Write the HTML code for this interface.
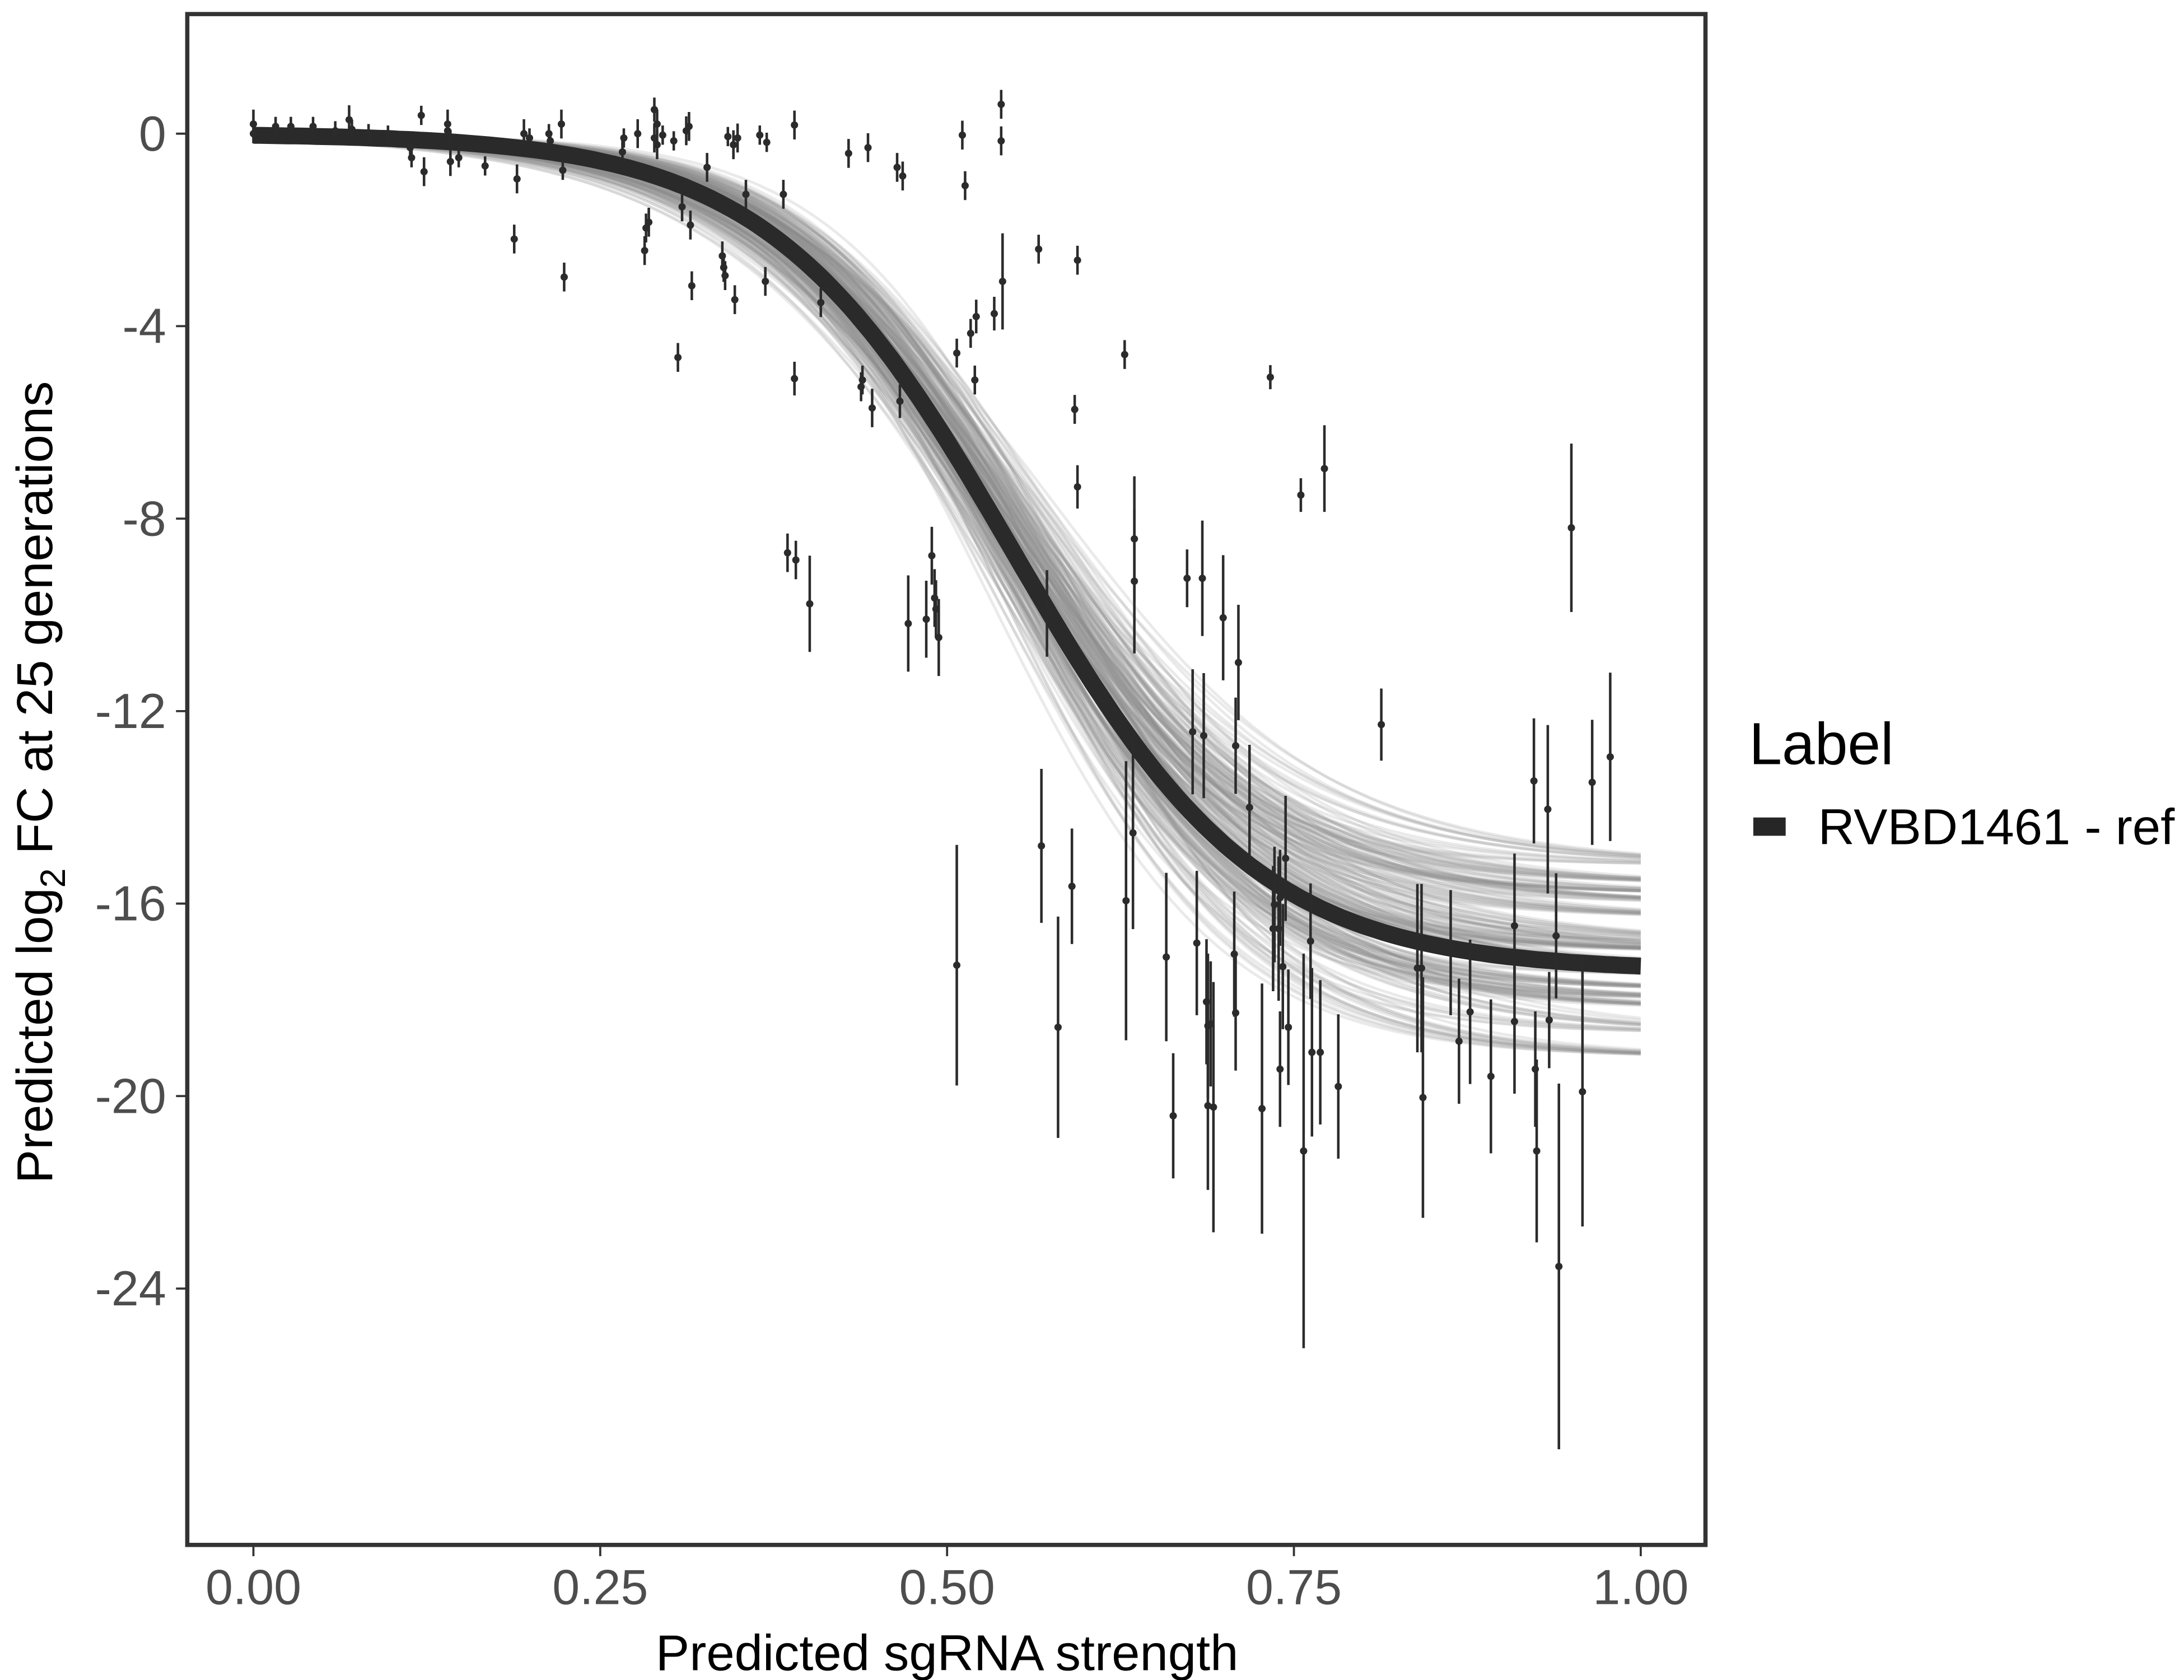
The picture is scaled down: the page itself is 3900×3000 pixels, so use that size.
<!DOCTYPE html>
<html><head><meta charset="utf-8"><style>
html,body{margin:0;padding:0;background:#fff}
svg{display:block}
text{font-family:"Liberation Sans",sans-serif}
</style></head><body>
<svg id="chart" width="3900" height="3000" viewBox="0 0 1552 1194" xmlns="http://www.w3.org/2000/svg">
<rect width="1552" height="1194" fill="#fff"/>
<g id="draws"></g>
<g id="fit"></g>
<g id="pts"></g>
<rect x="133" y="10" width="1079" height="1088" fill="none" stroke="#333" stroke-width="3"/>
<g id="xt"></g>
<g id="yt"></g>
<text x="673" y="1187" font-size="36" text-anchor="middle" fill="#000">Predicted sgRNA strength</text>
<text transform="translate(37,556) rotate(-90)" font-size="36" text-anchor="middle" fill="#000">Predicted  log<tspan font-size="25" dy="9">2</tspan><tspan dy="-9"> FC at 25 generations</tspan></text>
<g>
<text x="1243" y="543" font-size="42" fill="#000">Label</text>
<rect x="1246" y="581" width="23" height="13" fill="#262626"/>
<text x="1292" y="600" font-size="36" fill="#000">RVBD1461 - ref</text>
</g>
</svg>
<script>
const xTicks=[0,0.25,0.5,0.75,1];
const xTickLabels=["0.00","0.25","0.50","0.75","1.00"];
const yTicks=[0,-4,-8,-12,-16,-20,-24];
const yTickLabels=["0","-4","-8","-12","-16","-20","-24"];
const fitParams=[-17.4,0.548,0.088];
const drawLower=[-15.2,-15.8,-16.3,-16.8,-17.0,-17.3,-17.5,-17.8,-18.2,-18.7,-19.2,-16.0,-17.0,-18.0,-15.6];
const drawMid=[0.53,0.535,0.54,0.545,0.548,0.55,0.555,0.56,0.565,0.57,0.54,0.545,0.575,0.55,0.552];
const drawScale=[0.078,0.082,0.085,0.088,0.092,0.095,0.1,0.085,0.09,0.105,0.083,0.093,0.097,0.087,0.09];
const ptX=[0,0,0.016,0.027,0.043,0.059,0.069,0.071,0.083,0.097,0.113,0.114,0.121,0.123,0.14,0.14,0.142,0.142,0.148,0.167,0.188,0.19,0.195,0.199,0.213,0.214,0.222,0.223,0.224,0.266,0.267,0.277,0.282,0.283,0.285,0.289,0.289,0.291,0.291,0.295,0.303,0.306,0.309,0.312,0.314,0.315,0.316,0.327,0.338,0.339,0.34,0.342,0.346,0.347,0.349,0.355,0.365,0.37,0.369,0.382,0.39,0.39,0.385,0.391,0.401,0.409,0.429,0.438,0.439,0.443,0.446,0.464,0.468,0.466,0.472,0.485,0.489,0.491,0.492,0.494,0.507,0.507,0.511,0.513,0.517,0.52,0.521,0.534,0.539,0.539,0.54,0.566,0.568,0.572,0.58,0.59,0.592,0.594,0.594,0.628,0.629,0.634,0.635,0.635,0.658,0.663,0.673,0.677,0.68,0.684,0.685,0.687,0.688,0.69,0.688,0.692,0.699,0.71,0.708,0.707,0.708,0.718,0.727,0.733,0.735,0.736,0.739,0.74,0.74,0.742,0.744,0.746,0.755,0.757,0.762,0.763,0.769,0.772,0.782,0.813,0.839,0.842,0.843,0.863,0.869,0.877,0.892,0.909,0.909,0.923,0.924,0.925,0.933,0.934,0.939,0.941,0.95,0.958,0.965,0.978];
const ptY=[0.2,0,0.15,0.15,0.15,0.06,0.29,0.09,0,-0.03,-0.29,-0.5,0.38,-0.79,0.2,0.06,-0.12,-0.58,-0.5,-0.67,-2.19,-0.94,0,-0.09,0,-0.15,0.2,-0.76,-2.98,-0.38,-0.09,0,-2.43,-1.96,-1.84,0.5,-0.09,0.2,-0.23,-0.03,-0.15,-4.65,-1.52,0.06,0.15,-1.9,-3.16,-0.7,-2.54,-2.78,-2.95,-0.06,-0.23,-3.45,-0.09,-1.26,-0.03,-0.18,-3.07,-1.26,0.18,-5.09,-8.71,-8.86,-9.77,-3.51,-0.41,-5.26,-5.12,-0.29,-5.7,-0.7,-0.88,-5.56,-10.18,-10.09,-8.77,-9.65,-9.88,-10.47,-4.56,-17.28,-0.03,-1.08,-4.15,-5.12,-3.8,-3.74,-0.15,0.61,-3.07,-2.4,-14.8,-9.97,-18.57,-15.64,-5.73,-2.63,-7.34,-4.59,-15.94,-14.53,-8.42,-9.3,-17.11,-20.41,-9.24,-12.43,-16.82,-9.24,-12.51,-18.04,-18.54,-18.5,-20.2,-20.23,-10.06,-10.99,-12.72,-17.05,-18.27,-14.0,-20.26,-5.06,-16.52,-16.02,-16.52,-15.88,-19.44,-17.31,-15.06,-18.57,-7.51,-21.14,-16.78,-19.09,-19.09,-6.96,-19.8,-12.28,-17.34,-17.34,-20.03,-17.02,-18.86,-18.25,-19.59,-16.46,-18.45,-13.45,-19.44,-21.14,-14.04,-18.42,-16.67,-23.54,-8.19,-19.91,-13.48,-12.95];
const ptErr=[0.3,0.2,0.2,0.2,0.2,0.2,0.3,0.2,0.2,0.2,0.2,0.2,0.2,0.3,0.3,0.2,0.2,0.3,0.2,0.2,0.3,0.3,0.3,0.2,0.2,0.2,0.3,0.2,0.3,0.3,0.2,0.3,0.3,0.3,0.3,0.25,0.3,0.3,0.3,0.2,0.2,0.3,0.3,0.3,0.3,0.3,0.3,0.3,0.3,0.3,0.3,0.2,0.3,0.3,0.3,0.3,0.2,0.2,0.3,0.3,0.3,0.35,0.4,0.4,1.0,0.3,0.3,0.3,0.3,0.3,0.4,0.3,0.3,0.35,1.0,0.8,0.6,0.6,0.6,0.8,0.3,2.5,0.3,0.3,0.3,0.3,0.35,0.35,0.3,0.3,1.0,0.3,1.6,0.9,2.3,1.2,0.3,0.3,0.45,0.3,2.9,2.0,1.3,1.5,1.75,1.3,0.6,1.3,1.5,1.2,1.3,1.3,1.5,1.3,1.75,2.6,1.3,1.2,1.0,1.3,1.2,1.3,2.6,0.25,1.3,1.2,1.5,1.0,1.2,1.3,1.3,1.2,0.35,4.1,1.2,1.75,1.5,0.9,1.5,0.75,1.75,1.75,2.5,1.3,1.3,1.5,1.6,1.5,1.5,1.3,1.2,1.9,1.75,1.0,1.3,3.8,1.75,2.8,1.3,1.75];

const NS="http://www.w3.org/2000/svg";
function X(v){return 180+v*986;}
function Y(v){return 95-v*34.2;}
function mk(t,a,p){const e=document.createElementNS(NS,t);for(const k in a)e.setAttribute(k,a[k]);p.appendChild(e);return e;}
function logi(x,L,m,s){return L/(1+Math.exp(-(x-m)/s));}
function curvePath(L,m,s){let d="";for(let i=0;i<=200;i++){const x=i/200;d+=(i?"L":"M")+X(x).toFixed(1)+","+Y(logi(x,L,m,s)).toFixed(1);}return d;}

const draws=document.getElementById('draws');
for(let i=0;i<drawLower.length;i++){for(let j=0;j<drawMid.length;j++){
  const k=(i*7+j*3)%drawScale.length;
  const p=mk('path',{d:curvePath(drawLower[i],drawMid[j],drawScale[k]),fill:'none',stroke:'#8c8c8c','stroke-opacity':'0.18','stroke-width':'2'},draws);
  
  
}}
const fit=document.getElementById('fit');
const fl=mk('path',{d:curvePath(fitParams[0],fitParams[1],fitParams[2]),fill:'none',stroke:'#2a2a2a','stroke-width':'12'},fit);



const pts=document.getElementById('pts');
for(let i=0;i<ptX.length;i++){
  const g=mk('g',{},pts);
  
  
  mk('line',{x1:X(ptX[i]),x2:X(ptX[i]),y1:Y(ptY[i]+ptErr[i]),y2:Y(ptY[i]-ptErr[i]),stroke:'#2b2b2b','stroke-width':'1.8'},g);
  mk('circle',{cx:X(ptX[i]),cy:Y(ptY[i]),r:'2.6',fill:'#2b2b2b'},g);
}
const xt=document.getElementById('xt');
xTicks.forEach((v,i)=>{
  const l=mk('line',{x1:X(v),x2:X(v),y1:1099,y2:1106,stroke:'#333','stroke-width':'1.5'},xt);
  
  
  const t=mk('text',{x:X(v),y:1140,'font-size':'35','text-anchor':'middle',fill:'#4d4d4d'},xt);
  
  
  t.textContent=xTickLabels[i];
});
const yt=document.getElementById('yt');
yTicks.forEach((v,i)=>{
  const l=mk('line',{x1:125,x2:132,y1:Y(v),y2:Y(v),stroke:'#333','stroke-width':'1.5'},yt);
  
  
  const t=mk('text',{x:118,y:Y(v)+12,'font-size':'35','text-anchor':'end',fill:'#4d4d4d'},yt);
  
  
  t.textContent=yTickLabels[i];
});
</script>
</body></html>
